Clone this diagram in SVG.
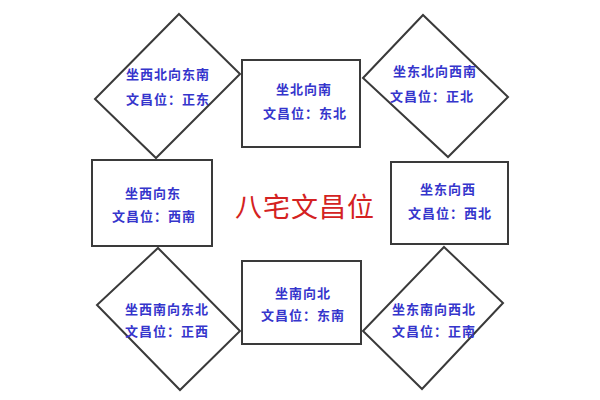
<svg xmlns="http://www.w3.org/2000/svg" width="600" height="400" viewBox="0 0 600 400">
<style>
.shape{fill:#ffffff;stroke:#3a3a3a;stroke-width:2}
.lbl{font-family:"Noto Sans CJK SC","Noto Sans",sans-serif;font-size:13px;font-weight:bold;fill:#3535cc;text-anchor:middle;dominant-baseline:central;letter-spacing:1px}
.title{font-family:"Noto Sans CJK SC","Noto Sans",sans-serif;font-size:27px;fill:#d42222;text-anchor:middle;dominant-baseline:central;letter-spacing:1px}
</style>
<rect width="600" height="400" fill="#ffffff"/>
<g id="connectors"></g>
<g id="nw">
<polygon class="shape" points="179,14 240,74 156,158 95,99"/>
<text class="lbl" x="168" y="73">坐西北向东南</text>
<text class="lbl" x="168" y="98">文昌位：正东</text>
</g>
<g id="n">
<rect class="shape" x="242" y="60" width="118" height="87"/>
<text class="lbl" x="304" y="88">坐北向南</text>
<text class="lbl" x="305" y="112">文昌位：东北</text>
</g>
<g id="ne">
<polygon class="shape" points="363,78 423,15 508,97 448,157"/>
<text class="lbl" x="435" y="70">坐东北向西南</text>
<text class="lbl" x="432" y="95">文昌位：正北</text>
</g>
<g id="w">
<rect class="shape" x="92" y="160" width="120" height="86"/>
<text class="lbl" x="153" y="192">坐西向东</text>
<text class="lbl" x="154" y="215">文昌位：西南</text>
</g>
<g id="title">
<text class="title" x="305" y="205">八宅文昌位</text>
</g>
<g id="e">
<rect class="shape" x="391" y="162" width="117" height="82"/>
<text class="lbl" x="448" y="188">坐东向西</text>
<text class="lbl" x="450" y="212">文昌位：西北</text>
</g>
<g id="sw">
<polygon class="shape" points="158,248 240,331 180,390 97,305"/>
<text class="lbl" x="167" y="308">坐西南向东北</text>
<text class="lbl" x="167" y="330">文昌位：正西</text>
</g>
<g id="s">
<rect class="shape" x="242" y="261" width="119" height="83"/>
<text class="lbl" x="303" y="292">坐南向北</text>
<text class="lbl" x="303" y="314">文昌位：东南</text>
</g>
<g id="se">
<polygon class="shape" points="444,247 503,303 422,389 363,331"/>
<text class="lbl" x="434" y="308">坐东南向西北</text>
<text class="lbl" x="434" y="330">文昌位：正南</text>
</g>
</svg>
